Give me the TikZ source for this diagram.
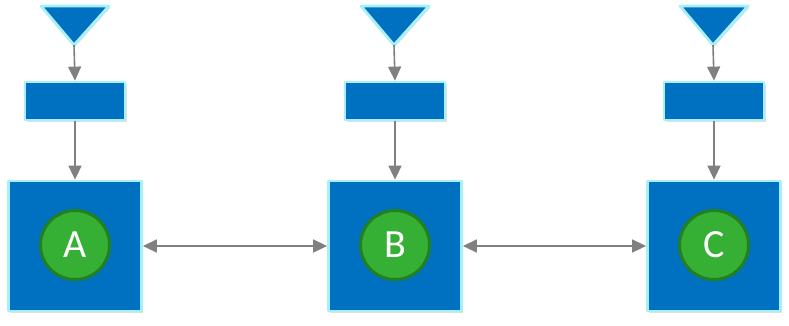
\documentclass[tikz,border=0pt]{standalone}
\usepackage{fontspec}
\setmainfont{Carlito}
\usepackage{tikz}
\usetikzlibrary{positioning,arrows.meta,shadows}
\definecolor{boxBlue}{HTML}{0070C0}
\definecolor{edgeCyan}{HTML}{A8F0F8}
\definecolor{nodeGreen}{HTML}{36B034}
\definecolor{ringGreen}{HTML}{23801F}
\definecolor{linkGray}{HTML}{808080}

\tikzset{
  blueshape/.style={fill=boxBlue, draw=edgeCyan, line width=2.8pt, line join=round,
    drop shadow={opacity=0.25, shadow xshift=1.5pt, shadow yshift=-1.5pt}},
  bigbox/.style={blueshape, minimum width=133pt, minimum height=130pt, inner sep=0pt},
  smallbox/.style={blueshape, minimum width=100pt, minimum height=38pt, inner sep=0pt},
  station/.style={circle, fill=nodeGreen, draw=ringGreen, line width=3pt,
    minimum size=69pt, inner sep=0pt, text=white, font=\fontsize{40}{40}\selectfont},
  link/.style={draw=linkGray, line width=1.6pt, -{Triangle[length=14pt,width=13pt]}},
  duplex/.style={link, {Triangle[length=14pt,width=13pt]}-{Triangle[length=14pt,width=13pt]}}
}

\begin{document}
\begin{tikzpicture}[x=1pt, y=-1pt]
  \useasboundingbox (0,0) rectangle (789,325);

  % three columns: funnel, feeder box, station
  \foreach \n/\x in {A/75, B/395, C/714} {
    \path[blueshape] (\x-34,6) -- (\x+34,6) -- (\x-1,45) -- cycle;
    \coordinate (t\n) at (\x-1,45);
    \node[smallbox] (f\n) at (\x,101) {};
    \node[bigbox] (s\n) at (\x,246) {};
    \node[station] (c\n) at (\x,245) {\n};
    \draw[link] (t\n) -- (f\n.north);
    \draw[link] (f\n.south) -- (s\n.north);
  }

  % links between stations
  \draw[duplex] (sA.east) -- (sB.west);
  \draw[duplex] (sB.east) -- (sC.west);
\end{tikzpicture}
\end{document}
